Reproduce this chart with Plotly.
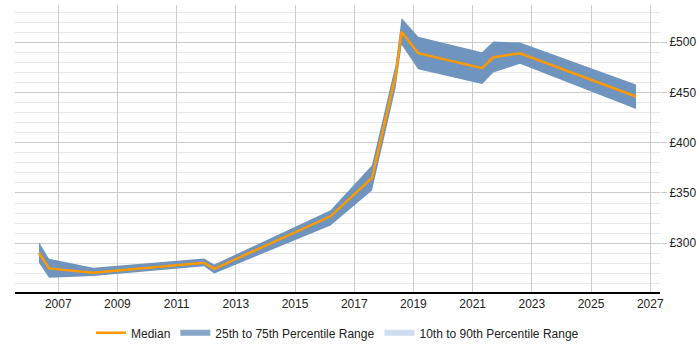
import plotly.graph_objects as go

# Data (decimal years)
dates = [2006.35, 2006.69, 2008.18, 2011.93, 2012.27, 2016.2, 2017.6, 2018.4,
         2018.6, 2019.16, 2021.32, 2021.7, 2022.6, 2026.52]
median = [290.5, 275.0, 270.6, 280.5, 274.6, 326.8, 365.0, 467.0,
          510.5, 489.0, 474.2, 485.0, 489.0, 446.0]
p75 = [301.0, 284.5, 275.6, 284.8, 278.8, 332.8, 377.5, 478.0,
       524.0, 505.3, 490.0, 500.6, 499.6, 458.0]
p25 = [280.5, 265.7, 267.3, 277.0, 270.0, 317.6, 352.5, 455.0,
       497.5, 473.0, 458.3, 469.8, 478.5, 433.5]
x_ticks = [2007, 2009, 2011, 2013, 2015, 2017, 2019, 2021, 2023, 2025, 2027]

band_color = "#6f94bd"
FONT = "Liberation Sans, Arial, sans-serif"

fig = go.Figure()
fig.add_trace(go.Scatter(x=dates, y=p25, mode="lines", line=dict(width=0, color=band_color),
                         showlegend=False, hoverinfo="skip"))
fig.add_trace(go.Scatter(x=dates, y=p75, mode="lines", line=dict(width=0, color=band_color),
                         fill="tonexty", fillcolor=band_color, name="25th to 75th Percentile Range",
                         showlegend=False, hoverinfo="skip"))
fig.add_trace(go.Scatter(x=dates, y=median, mode="lines", name="Median",
                         line=dict(color="#ff9900", width=2.5)))
# legend-only entries
fig.add_trace(go.Scatter(x=[None], y=[None], mode="none", fill="toself",
                         fillcolor="#87a5c6", name="25th to 75th Percentile Range"))
fig.add_trace(go.Scatter(x=[None], y=[None], mode="none", fill="toself",
                         fillcolor="#cfdeee", name="10th to 90th Percentile Range"))

fig.update_layout(
    width=700, height=350,
    margin=dict(l=15, r=40, t=5, b=58),
    paper_bgcolor="white", plot_bgcolor="white",
    font=dict(family=FONT, size=12, color="#222"),
    showlegend=True,
    legend=dict(orientation="h", x=0.5, xanchor="center", y=0.049, yref="container",
                yanchor="middle", font=dict(size=12, color="#222"), itemwidth=30,
                traceorder="normal"),
    xaxis=dict(range=[2005.54, 2027.33], tickmode="array", tickvals=x_ticks,
               ticktext=[str(v) for v in x_ticks], showgrid=True, gridcolor="#cccccc",
               gridwidth=1, zeroline=False, showline=True, linecolor="#000", linewidth=1.5,
               ticks="", fixedrange=True),
    yaxis=dict(range=[251.5, 537], side="right", dtick=50, tick0=300, tickprefix="£",
               showgrid=True, gridcolor="#cccccc", gridwidth=1, zeroline=False,
               showline=False, ticks="outside", ticklen=6, tickcolor="#cccccc",
               minor=dict(dtick=10, showgrid=True, gridcolor="#e8e8e8", gridwidth=1),
               fixedrange=True),
)

fig.write_html("out.html")
